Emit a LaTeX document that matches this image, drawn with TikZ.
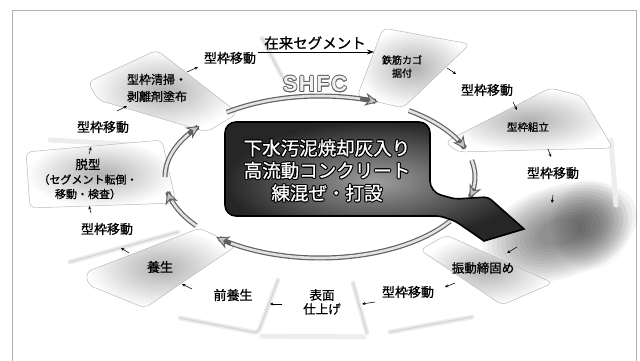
\documentclass[tikz,border=0pt]{standalone}
\usepackage{fontspec}
\setmainfont{Noto Sans CJK JP}
\newfontfamily\jb[FakeBold=1]{Noto Sans CJK JP}
\newfontfamily\latb{Liberation Sans}
\usetikzlibrary{arrows.meta}
\newcommand\halotext[4]{%
 \begingroup
 \setbox0=\hbox{\color{#1}#4}%
 \setbox2=\hbox{\color{#2}#4}%
 \dimen0=#3\relax
 \dimen2=0.7\dimen0
 \rlap{\kern\dimen0\copy0}\rlap{\kern-\dimen0\copy0}%
 \rlap{\raise\dimen0\copy0}\rlap{\lower\dimen0\copy0}%
 \rlap{\kern\dimen2\raise\dimen2\copy0}\rlap{\kern-\dimen2\raise\dimen2\copy0}%
 \rlap{\kern\dimen2\lower\dimen2\copy0}\rlap{\kern-\dimen2\lower\dimen2\copy0}%
 \box2
 \endgroup}
\newcommand\ringseg[3]{%
 \draw[ringo] plot[domain=#1:#2, samples=40, smooth, variable=\t] ({320+155*cos(\t)},{177-81*sin(\t)});
 \draw[ringi] plot[domain=#1:#3, samples=40, smooth, variable=\t] ({320+155*cos(\t)},{177-81*sin(\t)});}
\tikzset{
 lab/.style={font=\jb\fontsize{13}{15}\selectfont, align=center, inner sep=0pt},
 labs/.style={font=\jb\fontsize{11}{14}\selectfont, align=center, inner sep=0pt},
 plate/.style={draw=gray!55, line width=0.5pt, rounded corners=6pt, inner color=gray!62, outer color=white},
 cardsoft/.style={draw=gray!14, line width=5pt, line cap=round, rounded corners=4pt},
 card/.style={draw=gray!32, line width=1.4pt, line cap=round, rounded corners=4pt},
 tiny/.style={-{Stealth[length=3.4pt,width=3pt]}, line width=0.55pt, draw=black},
 ringo/.style={draw=black!62, line width=5pt, -{Stealth[length=13pt,width=13pt,line width=0.9pt,fill=gray!45]}},
 ringi/.style={draw=gray!22, line width=2.6pt},
}
\begin{document}
\begin{tikzpicture}[x=1pt,y=-1pt]
\useasboundingbox (0,0) rectangle (640,361);
% frame
\draw[gray!60, line width=0.8pt] (12,361) -- (12,10) -- (636,10) -- (636,361);
% dark shadow on the right
\foreach \s in {1,0.94,0.88,0.82,0.76,0.70,0.64,0.58,0.52,0.46,0.40,0.34,0.28}{
  \fill[black, opacity=0.045, rotate around={18:(560,232)}] (560,232) ellipse [x radius={\s*80pt}, y radius={\s*46pt}];
  \fill[black, opacity=0.025] (590,225) ellipse [x radius={\s*40pt}, y radius={\s*45pt}];
}
% transition cards (faint edges)
\draw[cardsoft] (262,38) -- (284,80);
\draw[cardsoft] (50,140) -- (160,146);
\draw[cardsoft] (70,262) -- (178,232);
\draw[cardsoft] (180,318) -- (258,333) -- (278,280);
\draw[cardsoft] (262,336) -- (364,337);
\draw[cardsoft] (353,283) -- (367,333);
\draw[cardsoft] (390,332) -- (472,317);
\draw[cardsoft] (611,140) -- (616,205);
\draw[card] (262,38) -- (284,80);
\draw[card] (70,262) -- (178,232);
\draw[card] (180,318) -- (258,333) -- (278,280);
\draw[card] (353,283) -- (367,333);
\draw[card] (390,332) -- (472,317);
% plates
\shadedraw[plate] (88,82) -- (157,50) -- (238,113) -- (207,132) -- (98,100) -- cycle;
\shadedraw[plate] (383,28) -- (470,44) -- (403,108) -- (357,97) -- cycle;
\shadedraw[plate] (445,142) -- (550,88) -- (582,96) -- (613,148) -- (458,152) -- cycle;
\shadedraw[plate] (420,250) -- (446,235) -- (553,283) -- (502,305) -- cycle;
\shadedraw[plate] (86,272) -- (200,228) -- (236,246) -- (145,308) -- (88,285) -- cycle;
\shadedraw[plate] (26,152) -- (162,140) -- (176,203) -- (30,208) -- cycle;
% ring (SHFC cycle)
\ringseg{127}{68}{75}
\ringseg{55}{20}{27}
\ringseg{12}{-15}{-8}
\ringseg{-33}{-132}{-125}
\ringseg{-143}{-170}{-163}
\ringseg{180}{141}{148}
% central box with arrow
\shadedraw[draw=black, line width=1.6pt, inner color=black!38, outer color=black!85]
  (225,170) [rounded corners=11pt] -- (225,122) -- (430,122) -- (430,192)
  [rounded corners=4pt] -- (455,199) -- (488,197) [sharp corners] -- (524,229) -- (484,241)
  [rounded corners=4pt] -- (477,236) -- (455,221) -- (440,216) [rounded corners=11pt] -- (225,216) -- cycle;
\node[inner sep=0pt] (main) at (327,173) {\halotext{black}{white}{1.1pt}{\jb\fontsize{18.5}{22.5}\selectfont\begin{tabular}{@{}c@{}}下水汚泥焼却灰入り\\高流動コンクリート\\練混ぜ・打設\end{tabular}}};
% top labels
\node[inner sep=0pt, font=\jb\fontsize{14.5}{16}\selectfont] (zairai) at (315,43) {在来セグメント};
\coordinate (zA) at (258,52);
\coordinate (zB) at (374,52);
\draw[-{Stealth[length=7pt,width=5pt]}, line width=0.8pt] (zA) -- (zB);
\node[inner sep=0pt] (shfc) at (315,84) {\halotext{black!65}{gray!12}{0.75pt}{\latb\bfseries\fontsize{22}{24}\selectfont S\kern1.5pt H\kern1.5pt F\kern1.5pt C}};
% step labels
\node[lab] (m1) at (230,58) {型枠移動};
\node[labs, font=\jb\fontsize{12}{17}\selectfont] (seisou) at (157,88) {型枠清掃・\\剥離剤塗布};
\node[lab] (m2) at (103,127) {型枠移動};
\node[labs, font=\jb\fontsize{11}{14.5}\selectfont] (datsu) at (88,179) {{\fontsize{12.5}{14.5}\selectfont 脱型}\\（セグメント転倒・\\移動・検査）};
\node[lab] (m3) at (107,229) {型枠移動};
\node[lab] (yousei) at (160,267) {養生};
\node[lab] (zen) at (233,295) {前養生};
\node[lab, font=\jb\fontsize{12.5}{14}\selectfont] (hyou) at (322,302) {表面\\仕上げ};
\node[lab] (m4) at (408,292) {型枠移動};
\node[lab, font=\jb\fontsize{12.5}{14}\selectfont] (shin) at (483,268) {振動締固め};
\node[lab] (m5) at (553,173) {型枠移動};
\node[labs, font=\jb\fontsize{10.5}{12}\selectfont] (kumi) at (528,127) {型枠組立};
\node[lab] (m6) at (487,90) {型枠移動};
\node[labs, font=\jb\fontsize{10}{13}\selectfont] (tekkin) at (402,66.5) {鉄筋カゴ\\据付};
% tiny arrows between steps
\foreach \n/\ax/\ay/\bx/\by in {1/187/72/198/67, 2/117/111/127/106, 3/89/154/91/147, 4/91/213/89/206,
  5/129/253/121/248, 6/192/289/182/284, 7/282/304/270/304, 8/375/302/362/304, 9/455/283/445/287,
  10/517/247/507/253, 11/553/195/552/203, 12/548/149/551/157, 13/513/102/517/110, 14/447/68/456/74}{
  \coordinate (ta\n) at (\ax,\ay);
  \coordinate (tb\n) at (\bx,\by);
  \draw[tiny] (ta\n) -- (tb\n);
}
\end{tikzpicture}
\end{document}
